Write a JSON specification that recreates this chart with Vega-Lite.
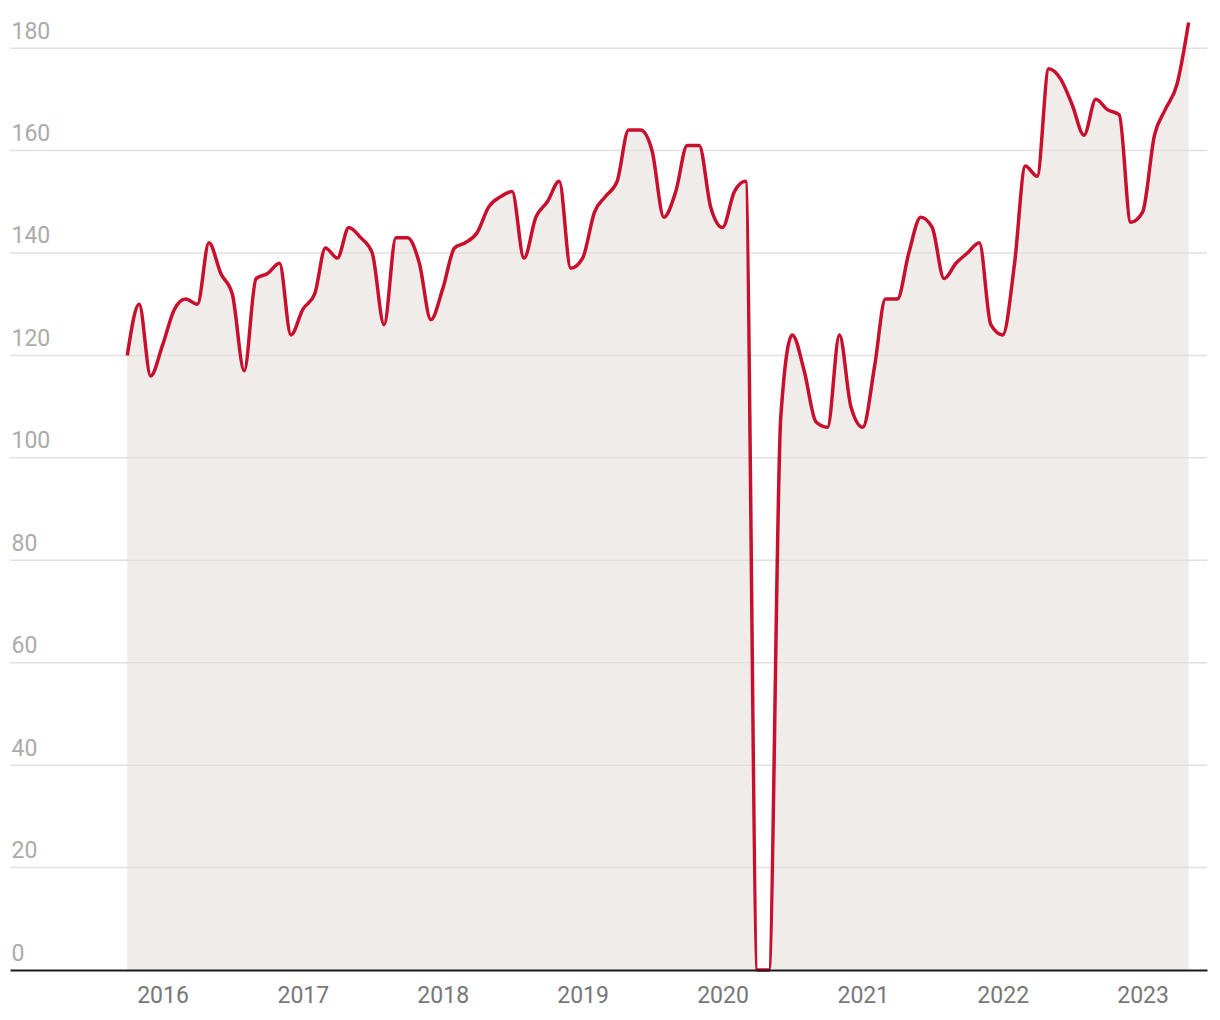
{
  "$schema": "https://vega.github.io/schema/vega-lite/v6.json",
  "width": 1197,
  "height": 970,
  "autosize": {"type": "none"},
  "padding": {"left": 10, "top": 0, "right": 13, "bottom": 50},
  "background": "white",
  "config": {
    "view": {"stroke": null},
    "font": "Roboto"
  },
  "datasets": {
    "grid": [
      {"g": 20}, {"g": 40}, {"g": 60}, {"g": 80}, {"g": 100},
      {"g": 120}, {"g": 140}, {"g": 160}, {"g": 180}
    ]
  },
  "data": {
    "values": [
      {"date": "2015-10-01", "value": 120},
      {"date": "2015-11-01", "value": 130},
      {"date": "2015-12-01", "value": 116},
      {"date": "2016-01-01", "value": 122},
      {"date": "2016-02-01", "value": 129},
      {"date": "2016-03-01", "value": 131},
      {"date": "2016-04-01", "value": 130},
      {"date": "2016-05-01", "value": 142},
      {"date": "2016-06-01", "value": 136},
      {"date": "2016-07-01", "value": 132},
      {"date": "2016-08-01", "value": 117},
      {"date": "2016-09-01", "value": 135},
      {"date": "2016-10-01", "value": 136},
      {"date": "2016-11-01", "value": 138},
      {"date": "2016-12-01", "value": 124},
      {"date": "2017-01-01", "value": 129},
      {"date": "2017-02-01", "value": 132},
      {"date": "2017-03-01", "value": 141},
      {"date": "2017-04-01", "value": 139},
      {"date": "2017-05-01", "value": 145},
      {"date": "2017-06-01", "value": 143},
      {"date": "2017-07-01", "value": 140},
      {"date": "2017-08-01", "value": 126},
      {"date": "2017-09-01", "value": 143},
      {"date": "2017-10-01", "value": 143},
      {"date": "2017-11-01", "value": 138},
      {"date": "2017-12-01", "value": 127},
      {"date": "2018-01-01", "value": 133},
      {"date": "2018-02-01", "value": 141},
      {"date": "2018-03-01", "value": 142},
      {"date": "2018-04-01", "value": 144},
      {"date": "2018-05-01", "value": 149},
      {"date": "2018-06-01", "value": 151},
      {"date": "2018-07-01", "value": 152},
      {"date": "2018-08-01", "value": 139},
      {"date": "2018-09-01", "value": 147},
      {"date": "2018-10-01", "value": 150},
      {"date": "2018-11-01", "value": 154},
      {"date": "2018-12-01", "value": 137},
      {"date": "2019-01-01", "value": 139},
      {"date": "2019-02-01", "value": 148},
      {"date": "2019-03-01", "value": 151},
      {"date": "2019-04-01", "value": 154},
      {"date": "2019-05-01", "value": 164},
      {"date": "2019-06-01", "value": 164},
      {"date": "2019-07-01", "value": 160},
      {"date": "2019-08-01", "value": 147},
      {"date": "2019-09-01", "value": 152},
      {"date": "2019-10-01", "value": 161},
      {"date": "2019-11-01", "value": 161},
      {"date": "2019-12-01", "value": 149},
      {"date": "2020-01-01", "value": 145},
      {"date": "2020-02-01", "value": 152},
      {"date": "2020-03-01", "value": 154},
      {"date": "2020-04-01", "value": 0},
      {"date": "2020-05-01", "value": 0},
      {"date": "2020-06-01", "value": 108},
      {"date": "2020-07-01", "value": 124},
      {"date": "2020-08-01", "value": 117},
      {"date": "2020-09-01", "value": 107},
      {"date": "2020-10-01", "value": 106},
      {"date": "2020-11-01", "value": 124},
      {"date": "2020-12-01", "value": 110},
      {"date": "2021-01-01", "value": 106},
      {"date": "2021-02-01", "value": 118},
      {"date": "2021-03-01", "value": 131},
      {"date": "2021-04-01", "value": 131},
      {"date": "2021-05-01", "value": 140},
      {"date": "2021-06-01", "value": 147},
      {"date": "2021-07-01", "value": 145},
      {"date": "2021-08-01", "value": 135},
      {"date": "2021-09-01", "value": 138},
      {"date": "2021-10-01", "value": 140},
      {"date": "2021-11-01", "value": 142},
      {"date": "2021-12-01", "value": 126},
      {"date": "2022-01-01", "value": 124},
      {"date": "2022-02-01", "value": 138},
      {"date": "2022-03-01", "value": 157},
      {"date": "2022-04-01", "value": 155},
      {"date": "2022-05-01", "value": 176},
      {"date": "2022-06-01", "value": 174},
      {"date": "2022-07-01", "value": 169},
      {"date": "2022-08-01", "value": 163},
      {"date": "2022-09-01", "value": 170},
      {"date": "2022-10-01", "value": 168},
      {"date": "2022-11-01", "value": 167},
      {"date": "2022-12-01", "value": 146},
      {"date": "2023-01-01", "value": 148},
      {"date": "2023-02-01", "value": 163},
      {"date": "2023-03-01", "value": 168},
      {"date": "2023-04-01", "value": 173},
      {"date": "2023-05-01", "value": 185}
    ]
  },
  "layer": [
    {
      "mark": {"type": "area", "interpolate": "monotone", "color": "#f0ece9"},
      "encoding": {
        "x": {
          "field": "date",
          "type": "temporal",
          "title": null,
          "scale": {
            "type": "utc",
            "domain": [
              {"year": 2014, "month": 11, "date": 29, "utc": true},
              {"year": 2023, "month": 6, "date": 18, "utc": true}
            ]
          },
          "axis": {
            "format": "%Y",
            "formatType": "utc",
            "values": [
              {"year": 2016, "month": 1, "date": 1, "utc": true},
              {"year": 2017, "month": 1, "date": 1, "utc": true},
              {"year": 2018, "month": 1, "date": 1, "utc": true},
              {"year": 2019, "month": 1, "date": 1, "utc": true},
              {"year": 2020, "month": 1, "date": 1, "utc": true},
              {"year": 2021, "month": 1, "date": 1, "utc": true},
              {"year": 2022, "month": 1, "date": 1, "utc": true},
              {"year": 2023, "month": 1, "date": 1, "utc": true}
            ],
            "ticks": false,
            "grid": false,
            "domain": true,
            "domainColor": "#1a1a1a",
            "domainWidth": 2,
            "labelFont": "Roboto",
            "labelFontSize": 23,
            "labelColor": "#777777",
            "labelPadding": 14,
            "labelAlign": "center",
            "labelFlush": false,
            "zindex": 1
          }
        },
        "y": {
          "field": "value",
          "type": "quantitative",
          "title": null,
          "scale": {"domain": [0, 189.4], "nice": false, "zero": true},
          "axis": {
            "values": [0, 20, 40, 60, 80, 100, 120, 140, 160, 180],
            "ticks": false,
            "domain": false,
            "grid": false,
            "labelFont": "Roboto",
            "labelFontSize": 23,
            "labelColor": "#ababab",
            "labelAlign": "left",
            "labelBaseline": "alphabetic",
            "labelPadding": -1,
            "labelOffset": -10,
            "labelFlush": false
          }
        }
      }
    },
    {
      "data": {"name": "grid"},
      "mark": {"type": "rule", "color": "#e2e0de", "strokeWidth": 1.5},
      "encoding": {
        "y": {"field": "g", "type": "quantitative"}
      }
    },
    {
      "mark": {"type": "line", "interpolate": "monotone", "color": "#c8102e", "strokeWidth": 3.5},
      "encoding": {
        "x": {"field": "date", "type": "temporal"},
        "y": {"field": "value", "type": "quantitative"}
      }
    }
  ]
}
